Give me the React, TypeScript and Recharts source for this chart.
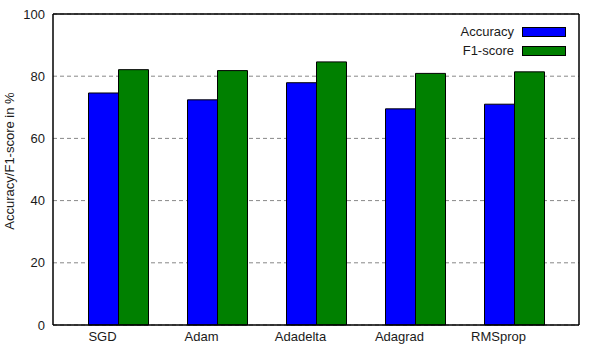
import { BarChart, Bar, XAxis, YAxis, CartesianGrid, Legend, ReferenceLine } from 'recharts';

const optimizers = ['SGD', 'Adam', 'Adadelta', 'Adagrad', 'RMSprop'];
const accuracy = [74.6, 72.4, 77.9, 69.5, 71.0];
const f1Score = [82.1, 81.8, 84.6, 80.9, 81.4];
const yTicks = [0, 20, 40, 60, 80, 100];

const SERIES = [
  { key: 'accuracy', name: 'Accuracy', color: '#0000ff' },
  { key: 'f1', name: 'F1-score', color: '#008000' },
];

const data = optimizers.map((name, i) => ({ name, accuracy: accuracy[i], f1: f1Score[i] }));

const FONT = 'Arial, "Liberation Sans", sans-serif';

function LegendBox() {
  return (
    <div style={{ fontFamily: FONT, fontSize: 13, color: '#1a1a1a' }}>
      {SERIES.map((s) => (
        <div key={s.key} style={{ display: 'flex', justifyContent: 'flex-end', alignItems: 'center', height: 19 }}>
          <span style={{ marginRight: 8 }}>{s.name}</span>
          <span style={{ width: 42, height: 8, background: s.color, border: '1px solid #000', display: 'inline-block' }} />
        </div>
      ))}
    </div>
  );
}

// y axis title, a bit above the plot centre like the original
function YTitle() {
  return (
    <text
      transform="translate(14, 161) rotate(-90)"
      textAnchor="middle"
      fill="#1a1a1a"
      fontSize={13}
      fontFamily={FONT}
    >
      Accuracy/F1-score in %
    </text>
  );
}

export default function App() {
  return (
    <div style={{ position: 'absolute', left: 0, top: 0, width: 591, height: 349, background: '#fff' }}>
      <BarChart
        width={591}
        height={349}
        data={data}
        margin={{ top: 14, right: 0, bottom: 0, left: 0 }}
        barSize={30}
        barGap={0}
      >
        <CartesianGrid vertical={false} stroke="#888" strokeDasharray="4 3" />
        <XAxis
          dataKey="name"
          height={24}
          padding={{ left: 15.5, right: 15.5 }}
          tickLine={false}
          axisLine={{ stroke: '#000', strokeWidth: 1.5 }}
          tick={{ fill: '#1a1a1a', fontSize: 13, fontFamily: FONT, dx: -15.5, dy: -1 }}
          interval={0}
        />
        <YAxis
          domain={[0, 100]}
          ticks={yTicks}
          width={53}
          tickLine={false}
          axisLine={{ stroke: '#000', strokeWidth: 1.5 }}
          tick={{ fill: '#1a1a1a', fontSize: 13, fontFamily: FONT }}
          label={<YTitle />}
        />
        <YAxis
          yAxisId="r"
          orientation="right"
          domain={[0, 100]}
          width={12}
          tick={false}
          tickLine={false}
          axisLine={{ stroke: '#000', strokeWidth: 1.5 }}
        />
        <ReferenceLine y={100} stroke="#000" strokeWidth={1.5} />
        <Legend
          layout="vertical"
          align="center"
          verticalAlign="middle"
          content={<LegendBox />}
          wrapperStyle={{ top: 22, left: 380, width: 186 }}
        />
        {SERIES.map((s) => (
          <Bar key={s.key} dataKey={s.key} name={s.name} fill={s.color} stroke="#000" strokeWidth={1} isAnimationActive={false} />
        ))}
      </BarChart>
    </div>
  );
}
